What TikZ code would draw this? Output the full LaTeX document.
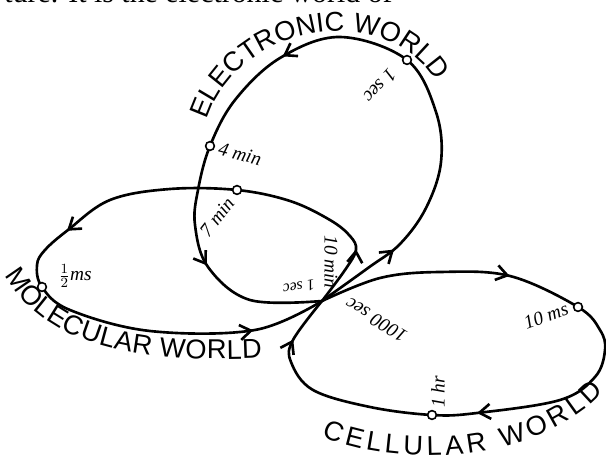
\documentclass[tikz,border=0pt]{standalone}
\usepackage{fontspec}
\setmainfont{Liberation Serif}
\newfontfamily\worldfont{Liberation Sans}
\usetikzlibrary{arrows.meta,decorations.markings,decorations.text}

\begin{document}
\begin{tikzpicture}[x=0.02cm, y=-0.02cm,
      >={Straight Barb[length=2.2mm, width=3mm]},
      lp/.style={line width=1.5pt, postaction={decorate}},
      pt/.style={circle, draw, fill=white, inner sep=0pt, minimum size=5pt, line width=0.9pt},
      hand/.style={font=\fontsize{11}{13}\selectfont\itshape, inner sep=1pt},
      world/.style={decorate, decoration={text along path, text align={fit to path},
        text={|\worldfont\fontsize{15.5}{18}\selectfont|#1}}}]
      \useasboundingbox (0,0) rectangle (606,459);
      \node[anchor=base east, font=\fontsize{17}{20}\selectfont, inner sep=0pt] (cap) at (393,3) {ture. It is the electronic world of};
      \coordinate (J) at (322,301);
      \coordinate (eA) at (407,60);
      \coordinate (eB) at (210,146);
      \coordinate (mA) at (237,190);
      \coordinate (mB) at (42,287);
      \coordinate (cA) at (578,307);
      \coordinate (cB) at (432,415);
      % electronic
      \draw[lp, decoration={markings, mark=at position .11 with {\arrow{>}},
          mark=at position .54 with {\arrow{>}}, mark=at position .84 with {\arrow{>}}}]
        plot[smooth, tension=.6] coordinates {(J) (368,268) (400,244) (426,208) (441,162) (436,112) (eA)
          (340,37) (280,58) (235,100) (eB) (198,190) (195,225) (208,267) (250,300) (J)};
      % molecular
      \draw[lp, decoration={markings, mark=at position .083 with {\arrow{>}},
          mark=at position .51 with {\arrow{>}}, mark=at position .90 with {\arrow{>}}}]
        plot[smooth, tension=.6] coordinates {(J) (345,270) (356,250) (350,236) (330,220) (290,201)
          (mA) (170,189) (110,200) (68,230) (45,250) (37,265) (mB) (70,310) (150,331) (255,330) (J)};
      % cellular
      \draw[lp, decoration={markings, mark=at position .256 with {\arrow{>}},
          mark=at position .634 with {\arrow{>}}, mark=at position .936 with {\arrow{>}}}]
        plot[smooth, tension=.6] coordinates {(J) (380,278) (440,272) (510,276) (cA) (600,330)
          (605,350) (595,377) (560,400) (477,413) (cB) (370,407) (313,390) (291,362) (293,340) (J)};
      \foreach \p in {eA,eB,mA,mB,cA,cB}
        \node[pt] (d\p) at (\p) {};
      \path[world={ELECTRONIC WORLD}] (207,120) .. controls (235,30) and (375,-5) .. (434,78);
      \path[world={MOLECULAR WORLD}] (5,275) .. controls (40,335) and (110,365) .. (262,358);
      \path[world={CELLULAR WORLD}] (322,436) .. controls (380,465) and (530,470) .. (604,392);
      \node[hand, rotate=228] (t1) at (380,86) {1 sec};
      \node[hand, rotate=-15] (t4) at (240,154) {4 min};
      \node[hand, rotate=52] (t7) at (217,217) {7 min};
      \node[hand] (tm) at (75,276) {$\frac{1}{2}$ms};
      \node[hand, rotate=-90] (t10) at (331,262) {10 min};
      \node[hand, rotate=190, font=\fontsize{9}{11}\selectfont\itshape] (ts) at (299,287) {1 sec};
      \node[hand, rotate=149] (tc) at (376,320) {1000 sec};
      \node[hand, rotate=20] (tcm) at (546,316) {10 ms};
      \node[hand, rotate=90] (tb) at (438,392) {1 hr};
    \end{tikzpicture}
\end{document}
